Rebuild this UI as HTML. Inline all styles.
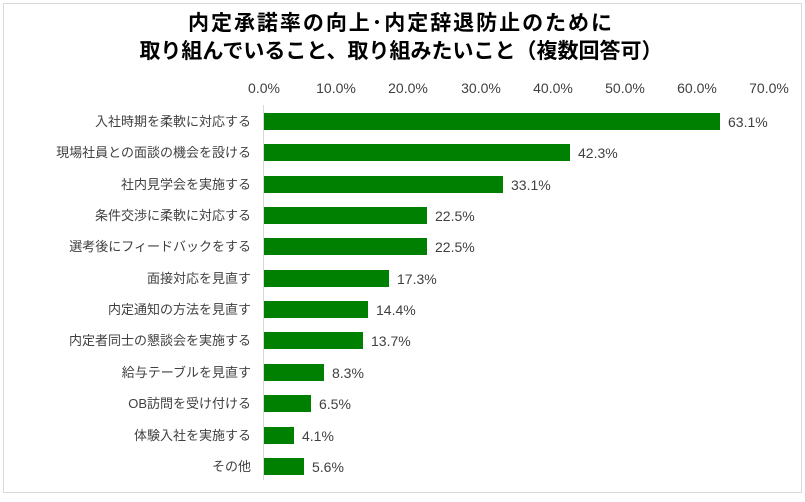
<!DOCTYPE html>
<html><head><meta charset="utf-8"><style>
body{margin:0;background:#fff;}
svg text{font-family:"Liberation Sans","Noto Sans CJK JP",sans-serif;}
</style></head><body>
<svg width="805" height="497" xmlns="http://www.w3.org/2000/svg">
<rect x="3.5" y="3.5" width="798" height="489" fill="#fff" stroke="#d9d9d9" stroke-width="1"/>
<text x="188" y="30" font-size="21" font-weight="bold" fill="#000" textLength="424" lengthAdjust="spacing">内定承諾率の向上･内定辞退防止のために</text>
<text x="401" y="58" font-size="21" font-weight="bold" text-anchor="middle" fill="#000">取り組んでいること、取り組みたいこと（複数回答可）</text>
<g font-size="14" fill="#404040" text-anchor="middle">
<text x="264" y="93">0.0%</text><text x="336" y="93">10.0%</text><text x="408" y="93">20.0%</text><text x="481" y="93">30.0%</text><text x="553" y="93">40.0%</text><text x="625" y="93">50.0%</text><text x="697" y="93">60.0%</text><text x="769" y="93">70.0%</text>
</g>
<line x1="263.5" y1="105" x2="263.5" y2="480" stroke="#d9d9d9"/>
<g fill="#008000">
<rect x="264" y="113" width="456" height="17"/>
<rect x="264" y="144" width="306" height="17"/>
<rect x="264" y="176" width="239" height="17"/>
<rect x="264" y="207" width="163" height="17"/>
<rect x="264" y="238" width="163" height="17"/>
<rect x="264" y="270" width="125" height="17"/>
<rect x="264" y="301" width="104" height="17"/>
<rect x="264" y="332" width="99" height="17"/>
<rect x="264" y="364" width="60" height="17"/>
<rect x="264" y="395" width="47" height="17"/>
<rect x="264" y="427" width="30" height="17"/>
<rect x="264" y="458" width="40" height="17"/>
</g>
<g font-size="13" fill="#404040" text-anchor="end">
<text x="251" y="126">入社時期を柔軟に対応する</text>
<text x="251" y="157">現場社員との面談の機会を設ける</text>
<text x="251" y="189">社内見学会を実施する</text>
<text x="251" y="220">条件交渉に柔軟に対応する</text>
<text x="251" y="251">選考後にフィードバックをする</text>
<text x="251" y="283">面接対応を見直す</text>
<text x="251" y="314">内定通知の方法を見直す</text>
<text x="251" y="345">内定者同士の懇談会を実施する</text>
<text x="251" y="377">給与テーブルを見直す</text>
<text x="251" y="408">OB訪問を受け付ける</text>
<text x="251" y="440">体験入社を実施する</text>
<text x="251" y="471">その他</text>
</g>
<g font-size="14" fill="#404040">
<text x="728" y="127">63.1%</text>
<text x="578" y="158">42.3%</text>
<text x="511" y="190">33.1%</text>
<text x="435" y="221">22.5%</text>
<text x="435" y="252">22.5%</text>
<text x="397" y="284">17.3%</text>
<text x="376" y="315">14.4%</text>
<text x="371" y="346">13.7%</text>
<text x="332" y="378">8.3%</text>
<text x="319" y="409">6.5%</text>
<text x="302" y="441">4.1%</text>
<text x="312" y="472">5.6%</text>
</g>
</svg>
</body></html>
